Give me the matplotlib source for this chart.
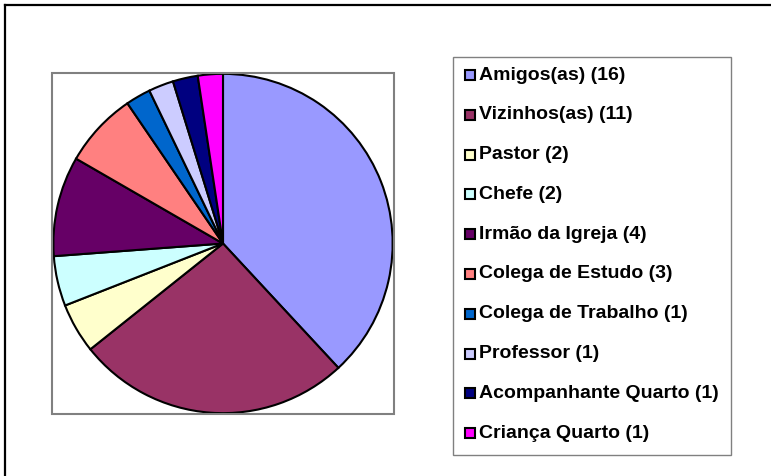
import matplotlib.pyplot as plt
from matplotlib.patches import Rectangle
from matplotlib.lines import Line2D

# relationship categories and counts
labels = ['Amigos(as)', 'Vizinhos(as)', 'Pastor', 'Chefe', 'Irmão da Igreja',
          'Colega de Estudo', 'Colega de Trabalho', 'Professor',
          'Acompanhante Quarto', 'Criança Quarto']
counts = [16, 11, 2, 2, 4, 3, 1, 1, 1, 1]
colors = ['#9999FF', '#993366', '#FFFFCC', '#CCFFFF', '#660066',
          '#FF8080', '#0066CC', '#CCCCFF', '#000080', '#FF00FF']

W, H = 771, 476
fig = plt.figure(figsize=(W / 100, H / 100), dpi=100)

def fx(px):
    return px / W

def fy(py):
    return 1 - py / H

#outer frame (only top and left are inside the picture)
fig.add_artist(Line2D([fx(5), fx(771)], [fy(5), fy(5)], color='black', lw=1.6))
fig.add_artist(Line2D([fx(5), fx(5)], [fy(5), fy(476)], color='black', lw=1.6))

#plot area box
fig.add_artist(Rectangle((fx(52), fy(414)), fx(394) - fx(52), fy(73) - fy(414),
                         fill=False, edgecolor='#808080', lw=1.5))

ax = fig.add_axes([fx(52), fy(414), fx(394) - fx(52), fy(73) - fy(414)])
ax.pie(counts, colors=colors, startangle=90, counterclock=False,
       wedgeprops={'edgecolor': 'black', 'linewidth': 1.5})
ax.set_xlim(-1.005, 1.005)
ax.set_ylim(-1.005, 1.005)

#legend box drawn by hand
fig.add_artist(Rectangle((fx(453), fy(455)), fx(731) - fx(453), fy(57) - fy(455),
                         fill=False, edgecolor='#808080', lw=1.0))
for i, (lab, n, c) in enumerate(zip(labels, counts, colors)):
    yc = 75 + i * 39.8
    fig.add_artist(Rectangle((fx(465), fy(yc + 5)), fx(10), 10 / H,
                             facecolor=c, edgecolor='black', lw=1.5))
    fig.text(fx(479), fy(yc), '%s (%d)' % (lab, n), fontsize=14,
             fontweight='bold', family='Liberation Sans', va='center', ha='left')

plt.savefig('out.png', dpi=100)
